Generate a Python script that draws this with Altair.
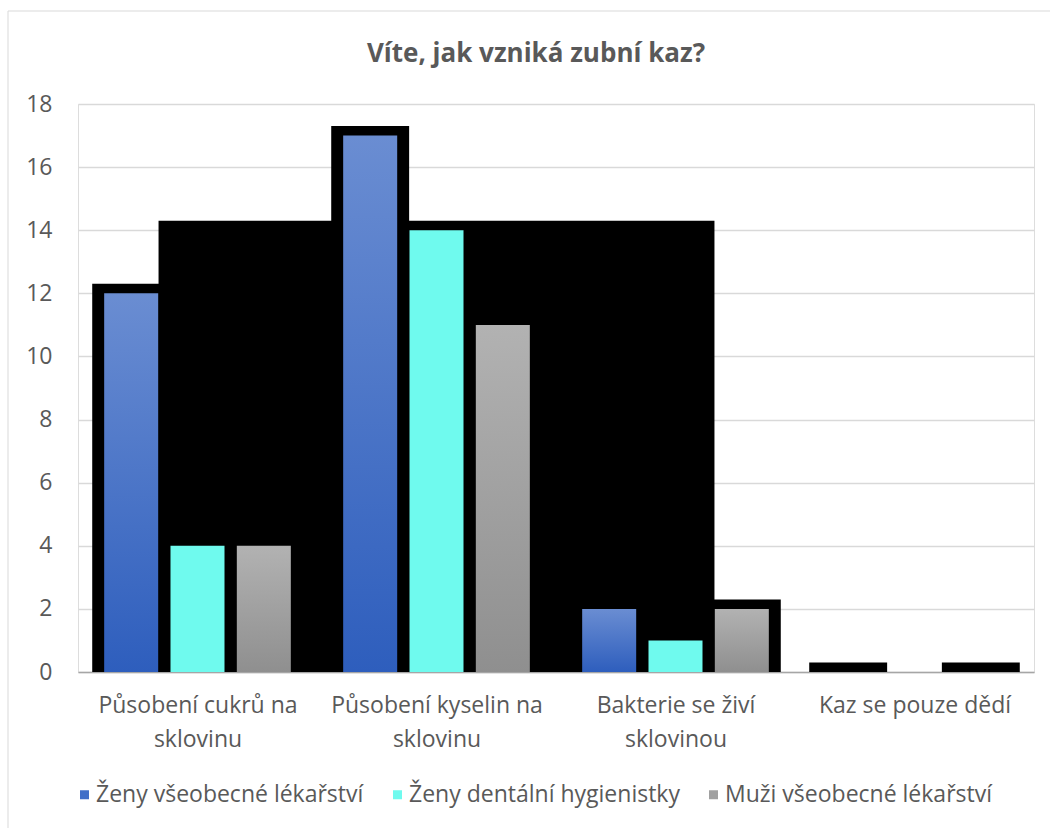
import json
import altair as alt
import pandas as pd

# Categories ("|" marks the line break of the axis label) and series values
categories = [
    "Působení cukrů na|sklovinu",
    "Působení kyselin na|sklovinu",
    "Bakterie se živí|sklovinou",
    "Kaz se pouze dědí",
]
series = ["Ženy všeobecné lékařství", "Ženy dentální hygienistky", "Muži všeobecné lékařství"]
zeny_lekarstvi = [12, 17, 2, 0]
zeny_hygienistky = [4, 14, 1, 0]
muzi_lekarstvi = [4, 11, 2, 0]
y_ticks = [0, 2, 4, 6, 8, 10, 12, 14, 16, 18]
title_text = "Víte, jak vzniká zubní kaz?"

# Bar geometry, in category units (one category = 1.0 on the x scale)
BAR_W = 0.226
STEP = 0.2775
SHADOW_X = 0.05
SHADOW_Y = 0.3

TEXT = "#595959"
FONT = "Open Sans"
FS = 23

rows = []
for s_idx, (name, vals) in enumerate(zip(series, [zeny_lekarstvi, zeny_hygienistky, muzi_lekarstvi])):
    for g, v in enumerate(vals):
        c = g + 0.5 + (s_idx - 1) * STEP
        rows.append({"series": name, "s": s_idx, "group": g, "value": v,
                     "x0": c - BAR_W / 2, "x1": c + BAR_W / 2})
bars = pd.DataFrame(rows)

# Black drop shadows: one per bar for the outer series, one merged block for the middle series
sh = bars[bars["s"] != 1].copy()
sh["sx0"] = sh["x0"] - SHADOW_X
sh["sx1"] = sh["x1"] + SHADOW_X
sh["top"] = sh["value"] + SHADOW_Y
mid = bars[(bars["s"] == 1) & (bars["value"] > 0)]
block = pd.DataFrame([{
    "sx0": mid["x0"].min() - SHADOW_X,
    "sx1": mid["x1"].max() + SHADOW_X,
    "top": mid["value"].max() + SHADOW_Y,
}])
shadows = pd.concat([sh[["sx0", "sx1", "top"]], block], ignore_index=True)

x_scale = alt.Scale(domain=[0, 4], nice=False, zero=False)
y_scale = alt.Scale(domain=[0, 18], nice=False)

label_expr = "split(" + json.dumps(categories, ensure_ascii=False) + "[floor(datum.value)], '|')"

x_axis = alt.Axis(values=[0.5, 1.5, 2.5, 3.5], labelExpr=label_expr, grid=False, ticks=False,
                  domain=True, domainColor="#A6A6A6", domainWidth=1.5, title=None,
                  labelFont=FONT, labelFontSize=FS, labelColor=TEXT, labelPadding=22,
                  labelLineHeight=34, labelBaseline="top", labelLimit=400)
y_axis = alt.Axis(values=y_ticks, grid=True, gridColor="#D9D9D9", gridWidth=1.3, ticks=False,
                  domain=False, title=None, labelFont=FONT, labelFontSize=FS, labelColor=TEXT,
                  labelPadding=26)

shadow_layer = alt.Chart(shadows).mark_rect(color="black").encode(
    x=alt.X("sx0:Q", scale=x_scale, axis=x_axis),
    x2="sx1:Q",
    y=alt.Y("top:Q", scale=y_scale, axis=y_axis),
    y2=alt.datum(0),
)


def gradient(top, bottom):
    return alt.Gradient(gradient="linear", x1=0, x2=0, y1=0, y2=1,
                        stops=[alt.GradientStop(color=top, offset=0),
                               alt.GradientStop(color=bottom, offset=1)])


fills = [gradient("#6A8DD2", "#2E5EBD"), "#6FFAEE", gradient("#B2B2B2", "#8F8F8F")]
bar_layers = []
for s_idx, fill in enumerate(fills):
    bar_layers.append(
        alt.Chart(bars).transform_filter(alt.datum.s == s_idx).mark_rect(color=fill).encode(
            x=alt.X("x0:Q", scale=x_scale),
            x2="x1:Q",
            y=alt.Y("value:Q", scale=y_scale),
            y2=alt.datum(0),
        )
    )

legend_layer = alt.Chart(bars).mark_square(opacity=0).encode(
    x=alt.X("x0:Q", scale=x_scale),
    y=alt.Y("value:Q", scale=y_scale),
    color=alt.Color("series:N", scale=alt.Scale(domain=series, range=["#416FC8", "#6FFAEE", "#A0A0A0"]),
                    legend=alt.Legend(orient="none", legendX=-5, legendY=679, direction="horizontal",
                                      title=None, symbolType="square", symbolSize=81,
                                      symbolStrokeWidth=0, symbolOpacity=1, labelFont=FONT,
                                      labelFontSize=FS, labelColor=TEXT, labelOffset=0,
                                      labelLimit=400, columnPadding=22, padding=0)),
)

title_layer = alt.Chart(pd.DataFrame({"t": [title_text]})).mark_text(
    font=FONT, fontSize=26, fontWeight="bold", color=TEXT, align="center", baseline="alphabetic"
).encode(text="t:N", x=alt.value(458), y=alt.value(-42))

frame = alt.Chart(pd.DataFrame({"k": [0]})).mark_rect(fill="transparent", stroke="#D9D9D9",
                                                       strokeWidth=1).encode(
    x=alt.value(-70), x2=alt.value(1000), y=alt.value(-93), y2=alt.value(760)
)

chart = alt.layer(frame, title_layer, shadow_layer, *bar_layers, legend_layer).properties(
    width=956,
    height=568,
    padding={"left": 78, "top": 104, "right": 16, "bottom": 156},
    autosize=alt.AutoSizeParams(type="none"),
).configure_view(stroke=None).configure(background="white")

chart.save("out.html", embed_options={"renderer": "svg", "actions": False})
